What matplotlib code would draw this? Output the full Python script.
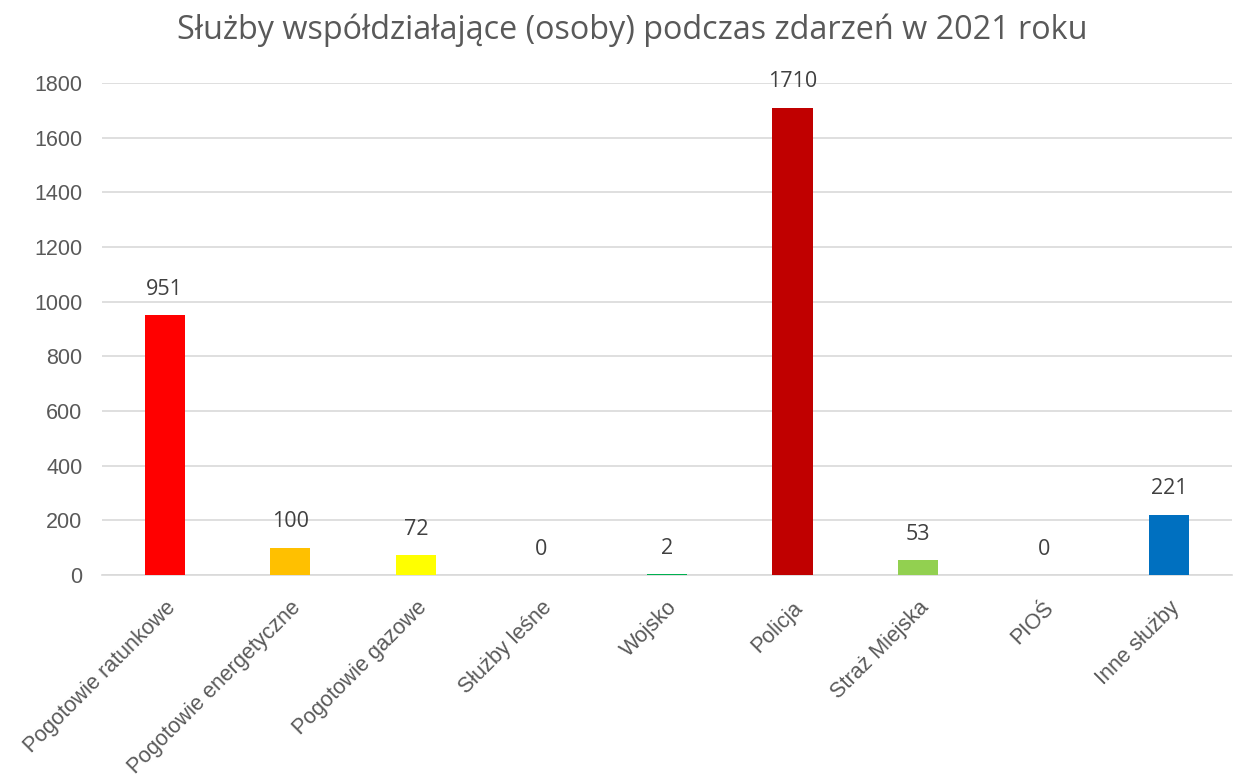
import matplotlib.pyplot as plt

# data
categories = ['Pogotowie ratunkowe', 'Pogotowie energetyczne', 'Pogotowie gazowe',
              'Służby leśne', 'Wojsko', 'Policja', 'Straż Miejska', 'PIOŚ', 'Inne służby']
values = [951, 100, 72, 0, 2, 1710, 53, 0, 221]
colors = ['#FF0000', '#FFC000', '#FFFF00', '#A5A5A5', '#00B050',
          '#C00000', '#92D050', '#7030A0', '#0070C0']
yticks = [0, 200, 400, 600, 800, 1000, 1200, 1400, 1600, 1800]

fig = plt.figure(figsize=(12.39, 7.77), dpi=100)
ax = fig.add_axes([0.0823, 0.26, 0.912, 0.633])

x = range(len(categories))
bars = ax.bar(x, values, width=0.32, color=colors, zorder=3)

ax.set_xlim(-0.5, len(categories) - 0.5)
ax.set_ylim(0, 1800)
ax.set_yticks(yticks)
ax.set_yticklabels([str(t) for t in yticks], fontfamily='Liberation Sans',
                   fontsize=15.5, color='#595959')
ax.yaxis.grid(True, color='#D9D9D9', linewidth=1.2, zorder=0)
ax.tick_params(axis='both', length=0)
ax.tick_params(axis='y', pad=14)

ax.set_xticks(list(x))
ax.set_xticklabels(categories, rotation=45, ha='right', rotation_mode='anchor',
                   fontfamily='Liberation Sans', fontsize=15.5, color='#595959')
ax.tick_params(axis='x', pad=16)

for s in ['top', 'right', 'left']:
    ax.spines[s].set_visible(False)
ax.spines['bottom'].set_color('#D9D9D9')
ax.spines['bottom'].set_linewidth(1.2)

# data labels above bars
for xi, v in zip(x, values):
    ax.annotate(str(v), (xi, v), xytext=(0, 11), textcoords='offset points',
                ha='center', va='bottom', fontfamily='Open Sans', fontsize=15.5,
                color='#404040')

fig.text(0.51, 0.961, 'Służby współdziałające (osoby) podczas zdarzeń w 2021 roku',
         ha='center', va='center', fontfamily='Open Sans', fontsize=23.3,
         color='#595959')

plt.savefig('out.png', dpi=100)
